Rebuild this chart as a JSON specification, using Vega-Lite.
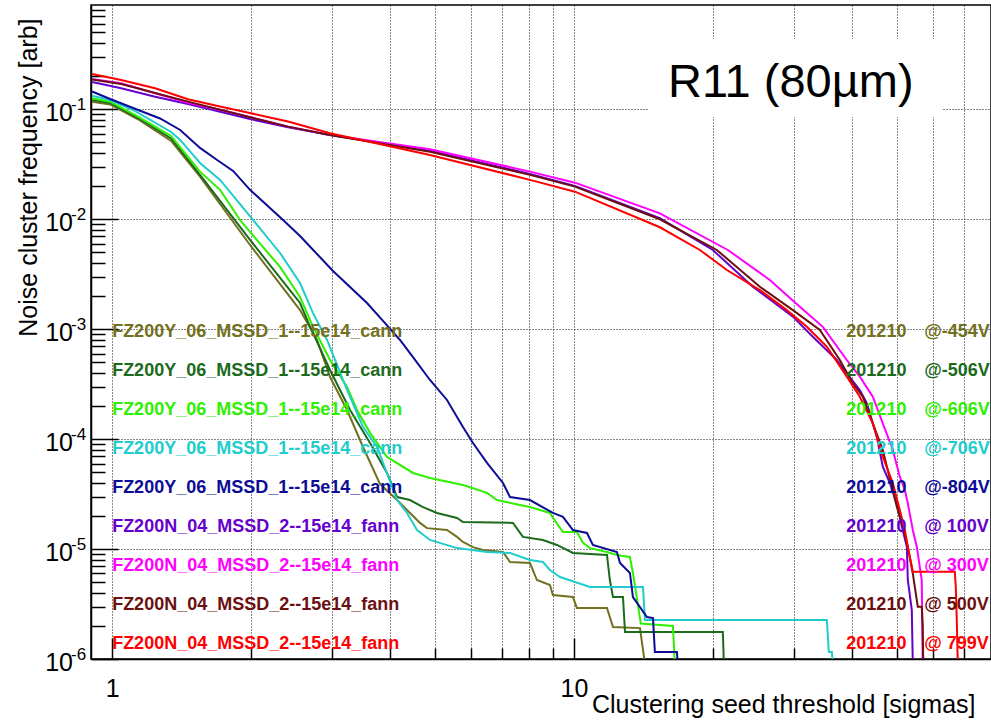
{
  "$schema": "https://vega.github.io/schema/vega-lite/v6.json",
  "width": 900,
  "height": 654,
  "autosize": {"type": "none"},
  "padding": {"left": 91, "top": 5, "right": 0, "bottom": 61},
  "background": "white",
  "config": {"view": {"stroke": "#000", "strokeWidth": 1.5}, "font": "Liberation Sans"},
  "datasets": {
    "curves": [
      {"s": "-454V", "x": 0.905, "y": 0.1173}, {"s": "-454V", "x": 0.990, "y": 0.1106}, {"s": "-454V", "x": 1.138, "y": 0.0811}, {"s": "-454V", "x": 1.342, "y": 0.0515}, {"s": "-454V", "x": 1.550, "y": 0.0244}, {"s": "-454V", "x": 1.989, "y": 0.00583}, {"s": "-454V", "x": 2.552, "y": 0.00149}, {"s": "-454V", "x": 2.778, "y": 0.000797}, {"s": "-454V", "x": 2.964, "y": 0.000367}, {"s": "-454V", "x": 3.226, "y": 0.000184}, {"s": "-454V", "x": 3.494, "y": 0.0000848}, {"s": "-454V", "x": 3.803, "y": 0.000039}, {"s": "-454V", "x": 4.140, "y": 0.0000279}, {"s": "-454V", "x": 4.416, "y": 0.0000213}, {"s": "-454V", "x": 4.642, "y": 0.0000173}, {"s": "-454V", "x": 4.806, "y": 0.0000155}, {"s": "-454V", "x": 5.310, "y": 0.0000149}, {"s": "-454V", "x": 5.582, "y": 0.0000129}, {"s": "-454V", "x": 5.750, "y": 0.0000116}, {"s": "-454V", "x": 6.045, "y": 0.0000104}, {"s": "-454V", "x": 6.354, "y": 0.0000098}, {"s": "-454V", "x": 7.020, "y": 0.0000094}, {"s": "-454V", "x": 7.270, "y": 0.00000762}, {"s": "-454V", "x": 8.031, "y": 0.00000746}, {"s": "-454V", "x": 8.314, "y": 0.00000523}, {"s": "-454V", "x": 8.872, "y": 0.00000471}, {"s": "-454V", "x": 9.005, "y": 0.00000382}, {"s": "-454V", "x": 9.950, "y": 0.00000366}, {"s": "-454V", "x": 10.15, "y": 0.00000291}, {"s": "-454V", "x": 11.79, "y": 0.00000291}, {"s": "-454V", "x": 12.15, "y": 0.00000195}, {"s": "-454V", "x": 13.90, "y": 0.00000191}, {"s": "-454V", "x": 14.25, "y": 0.0000009},

      {"s": "-506V", "x": 0.905, "y": 0.1215}, {"s": "-506V", "x": 0.990, "y": 0.1141}, {"s": "-506V", "x": 1.138, "y": 0.0833}, {"s": "-506V", "x": 1.342, "y": 0.0543}, {"s": "-506V", "x": 1.550, "y": 0.0253}, {"s": "-506V", "x": 1.989, "y": 0.00648}, {"s": "-506V", "x": 2.552, "y": 0.00173}, {"s": "-506V", "x": 2.684, "y": 0.00105}, {"s": "-506V", "x": 2.964, "y": 0.000425}, {"s": "-506V", "x": 3.275, "y": 0.000184}, {"s": "-506V", "x": 3.618, "y": 0.0000922}, {"s": "-506V", "x": 3.938, "y": 0.0000492}, {"s": "-506V", "x": 4.140, "y": 0.0000297}, {"s": "-506V", "x": 4.416, "y": 0.0000279}, {"s": "-506V", "x": 4.712, "y": 0.0000241}, {"s": "-506V", "x": 5.052, "y": 0.0000213}, {"s": "-506V", "x": 5.582, "y": 0.0000192}, {"s": "-506V", "x": 5.750, "y": 0.0000176}, {"s": "-506V", "x": 7.379, "y": 0.0000173}, {"s": "-506V", "x": 7.755, "y": 0.0000129}, {"s": "-506V", "x": 8.568, "y": 0.0000121}, {"s": "-506V", "x": 9.188, "y": 0.0000109}, {"s": "-506V", "x": 9.950, "y": 0.00000921}, {"s": "-506V", "x": 11.79, "y": 0.00000883}, {"s": "-506V", "x": 11.96, "y": 0.00000523}, {"s": "-506V", "x": 12.15, "y": 0.00000366}, {"s": "-506V", "x": 12.77, "y": 0.00000366}, {"s": "-506V", "x": 12.90, "y": 0.00000176}, {"s": "-506V", "x": 21.01, "y": 0.00000176}, {"s": "-506V", "x": 21.12, "y": 0.0000009},

      {"s": "-606V", "x": 0.905, "y": 0.1259}, {"s": "-606V", "x": 0.990, "y": 0.1173}, {"s": "-606V", "x": 1.138, "y": 0.0856}, {"s": "-606V", "x": 1.342, "y": 0.0572}, {"s": "-606V", "x": 1.550, "y": 0.0271}, {"s": "-606V", "x": 1.713, "y": 0.0185}, {"s": "-606V", "x": 1.892, "y": 0.00984}, {"s": "-606V", "x": 1.989, "y": 0.00766}, {"s": "-606V", "x": 2.310, "y": 0.00368}, {"s": "-606V", "x": 2.552, "y": 0.00196}, {"s": "-606V", "x": 2.723, "y": 0.00105}, {"s": "-606V", "x": 2.964, "y": 0.000524}, {"s": "-606V", "x": 3.226, "y": 0.000298}, {"s": "-606V", "x": 3.391, "y": 0.000184}, {"s": "-606V", "x": 3.618, "y": 0.000114}, {"s": "-606V", "x": 3.938, "y": 0.0000688}, {"s": "-606V", "x": 4.482, "y": 0.0000492}, {"s": "-606V", "x": 4.878, "y": 0.0000443}, {"s": "-606V", "x": 5.750, "y": 0.0000382}, {"s": "-606V", "x": 6.483, "y": 0.0000324}, {"s": "-606V", "x": 6.812, "y": 0.0000279}, {"s": "-606V", "x": 7.639, "y": 0.0000252}, {"s": "-606V", "x": 8.031, "y": 0.0000241}, {"s": "-606V", "x": 8.872, "y": 0.0000213}, {"s": "-606V", "x": 9.005, "y": 0.0000192}, {"s": "-606V", "x": 9.467, "y": 0.0000143}, {"s": "-606V", "x": 10.15, "y": 0.0000143}, {"s": "-606V", "x": 10.46, "y": 0.0000114}, {"s": "-606V", "x": 10.83, "y": 0.0000102}, {"s": "-606V", "x": 11.79, "y": 0.0000094}, {"s": "-606V", "x": 12.39, "y": 0.00000883}, {"s": "-606V", "x": 13.22, "y": 0.00000847}, {"s": "-606V", "x": 13.42, "y": 0.00000606}, {"s": "-606V", "x": 13.96, "y": 0.0000021}, {"s": "-606V", "x": 16.38, "y": 0.000002}, {"s": "-606V", "x": 16.54, "y": 0.0000009},

      {"s": "-706V", "x": 0.905, "y": 0.1330}, {"s": "-706V", "x": 0.990, "y": 0.1215}, {"s": "-706V", "x": 1.110, "y": 0.0985}, {"s": "-706V", "x": 1.342, "y": 0.0622}, {"s": "-706V", "x": 1.404, "y": 0.0526}, {"s": "-706V", "x": 1.550, "y": 0.0325}, {"s": "-706V", "x": 1.713, "y": 0.0228}, {"s": "-706V", "x": 2.019, "y": 0.00984}, {"s": "-706V", "x": 2.310, "y": 0.00493}, {"s": "-706V", "x": 2.552, "y": 0.00263}, {"s": "-706V", "x": 2.723, "y": 0.00140}, {"s": "-706V", "x": 2.920, "y": 0.000797}, {"s": "-706V", "x": 3.226, "y": 0.000280}, {"s": "-706V", "x": 3.494, "y": 0.000129}, {"s": "-706V", "x": 3.747, "y": 0.0000848}, {"s": "-706V", "x": 4.140, "y": 0.0000279}, {"s": "-706V", "x": 4.350, "y": 0.0000213}, {"s": "-706V", "x": 4.573, "y": 0.0000149}, {"s": "-706V", "x": 4.878, "y": 0.0000121}, {"s": "-706V", "x": 5.582, "y": 0.0000102}, {"s": "-706V", "x": 6.483, "y": 0.0000094}, {"s": "-706V", "x": 7.270, "y": 0.00000921}, {"s": "-706V", "x": 8.031, "y": 0.00000795}, {"s": "-706V", "x": 8.568, "y": 0.00000762}, {"s": "-706V", "x": 8.872, "y": 0.00000645}, {"s": "-706V", "x": 9.326, "y": 0.00000557}, {"s": "-706V", "x": 10.83, "y": 0.00000452}, {"s": "-706V", "x": 14.11, "y": 0.00000452}, {"s": "-706V", "x": 14.25, "y": 0.00000226}, {"s": "-706V", "x": 35.29, "y": 0.00000226}, {"s": "-706V", "x": 35.64, "y": 0.00000116}, {"s": "-706V", "x": 36.18, "y": 0.00000116}, {"s": "-706V", "x": 36.36, "y": 0.0000009},

      {"s": "-804V", "x": 0.905, "y": 0.1452}, {"s": "-804V", "x": 0.990, "y": 0.1241}, {"s": "-804V", "x": 1.110, "y": 0.1027}, {"s": "-804V", "x": 1.270, "y": 0.0825}, {"s": "-804V", "x": 1.404, "y": 0.0648}, {"s": "-804V", "x": 1.550, "y": 0.0445}, {"s": "-804V", "x": 1.688, "y": 0.0346}, {"s": "-804V", "x": 1.828, "y": 0.0275}, {"s": "-804V", "x": 1.989, "y": 0.0185}, {"s": "-804V", "x": 2.345, "y": 0.00984}, {"s": "-804V", "x": 2.552, "y": 0.00704}, {"s": "-804V", "x": 3.008, "y": 0.00338}, {"s": "-804V", "x": 3.564, "y": 0.00173}, {"s": "-804V", "x": 3.860, "y": 0.00119}, {"s": "-804V", "x": 4.201, "y": 0.000797}, {"s": "-804V", "x": 4.482, "y": 0.000558}, {"s": "-804V", "x": 4.878, "y": 0.000345}, {"s": "-804V", "x": 5.310, "y": 0.000227}, {"s": "-804V", "x": 5.750, "y": 0.000129}, {"s": "-804V", "x": 6.045, "y": 0.0000922}, {"s": "-804V", "x": 6.483, "y": 0.0000607}, {"s": "-804V", "x": 7.020, "y": 0.0000399}, {"s": "-804V", "x": 7.270, "y": 0.0000297}, {"s": "-804V", "x": 8.031, "y": 0.0000279}, {"s": "-804V", "x": 9.005, "y": 0.0000213}, {"s": "-804V", "x": 9.467, "y": 0.0000196}, {"s": "-804V", "x": 9.950, "y": 0.0000149}, {"s": "-804V", "x": 10.67, "y": 0.0000140}, {"s": "-804V", "x": 10.99, "y": 0.0000109}, {"s": "-804V", "x": 12.39, "y": 0.0000094}, {"s": "-804V", "x": 12.58, "y": 0.00000746}, {"s": "-804V", "x": 13.22, "y": 0.00000606}, {"s": "-804V", "x": 13.42, "y": 0.00000366}, {"s": "-804V", "x": 14.39, "y": 0.00000241}, {"s": "-804V", "x": 14.83, "y": 0.00000236}, {"s": "-804V", "x": 14.97, "y": 0.00000116}, {"s": "-804V", "x": 16.71, "y": 0.00000116}, {"s": "-804V", "x": 16.79, "y": 0.0000009},

      {"s": "100V", "x": 0.905, "y": 0.1771}, {"s": "100V", "x": 1.046, "y": 0.1552}, {"s": "100V", "x": 1.239, "y": 0.1302}, {"s": "100V", "x": 1.460, "y": 0.1117}, {"s": "100V", "x": 1.999, "y": 0.0811}, {"s": "100V", "x": 2.404, "y": 0.0686}, {"s": "100V", "x": 2.964, "y": 0.0584}, {"s": "100V", "x": 4.878, "y": 0.0420}, {"s": "100V", "x": 8.031, "y": 0.0258}, {"s": "100V", "x": 10.05, "y": 0.0201}, {"s": "100V", "x": 15.35, "y": 0.0102}, {"s": "100V", "x": 19.99, "y": 0.00525}, {"s": "100V", "x": 24.40, "y": 0.00243}, {"s": "100V", "x": 29.79, "y": 0.00130}, {"s": "100V", "x": 32.91, "y": 0.000854}, {"s": "100V", "x": 37.09, "y": 0.000524}, {"s": "100V", "x": 38.98, "y": 0.000397}, {"s": "100V", "x": 41.59, "y": 0.000280}, {"s": "100V", "x": 43.07, "y": 0.000212}, {"s": "100V", "x": 44.38, "y": 0.000139}, {"s": "100V", "x": 45.27, "y": 0.000105}, {"s": "100V", "x": 46.64, "y": 0.0000561}, {"s": "100V", "x": 48.31, "y": 0.0000399}, {"s": "100V", "x": 50.02, "y": 0.0000261}, {"s": "100V", "x": 51.29, "y": 0.0000160}, {"s": "100V", "x": 52.58, "y": 0.0000105}, {"s": "100V", "x": 52.84, "y": 0.00000523}, {"s": "100V", "x": 53.90, "y": 0.00000279}, {"s": "100V", "x": 54.17, "y": 0.0000009},

      {"s": "300V", "x": 0.905, "y": 0.1886}, {"s": "300V", "x": 1.046, "y": 0.1723}, {"s": "300V", "x": 1.239, "y": 0.1398}, {"s": "300V", "x": 1.460, "y": 0.1148}, {"s": "300V", "x": 1.722, "y": 0.0985}, {"s": "300V", "x": 1.999, "y": 0.0846}, {"s": "300V", "x": 2.404, "y": 0.0695}, {"s": "300V", "x": 2.964, "y": 0.0584}, {"s": "300V", "x": 4.878, "y": 0.0433}, {"s": "300V", "x": 8.031, "y": 0.0271}, {"s": "300V", "x": 10.05, "y": 0.0215}, {"s": "300V", "x": 15.35, "y": 0.01132}, {"s": "300V", "x": 21.54, "y": 0.00525}, {"s": "300V", "x": 26.56, "y": 0.00280}, {"s": "300V", "x": 30.84, "y": 0.00160}, {"s": "300V", "x": 34.59, "y": 0.00105}, {"s": "300V", "x": 38.98, "y": 0.000524}, {"s": "300V", "x": 41.59, "y": 0.000370}, {"s": "300V", "x": 44.38, "y": 0.000243}, {"s": "300V", "x": 46.64, "y": 0.000139}, {"s": "300V", "x": 49.03, "y": 0.0000796}, {"s": "300V", "x": 50.77, "y": 0.0000455}, {"s": "300V", "x": 52.06, "y": 0.0000345}, {"s": "300V", "x": 52.84, "y": 0.0000261}, {"s": "300V", "x": 54.17, "y": 0.0000149}, {"s": "300V", "x": 55.26, "y": 0.0000105}, {"s": "300V", "x": 56.64, "y": 0.00000523}, {"s": "300V", "x": 56.92, "y": 0.0000009},

      {"s": "500V", "x": 0.905, "y": 0.1867}, {"s": "500V", "x": 1.046, "y": 0.1698}, {"s": "500V", "x": 1.460, "y": 0.1173}, {"s": "500V", "x": 1.999, "y": 0.0842}, {"s": "500V", "x": 2.404, "y": 0.0695}, {"s": "500V", "x": 2.964, "y": 0.0584}, {"s": "500V", "x": 4.878, "y": 0.0411}, {"s": "500V", "x": 8.031, "y": 0.0253}, {"s": "500V", "x": 10.05, "y": 0.0198}, {"s": "500V", "x": 15.35, "y": 0.00999}, {"s": "500V", "x": 20.39, "y": 0.00525}, {"s": "500V", "x": 25.27, "y": 0.00243}, {"s": "500V", "x": 29.79, "y": 0.00149}, {"s": "500V", "x": 34.08, "y": 0.000983}, {"s": "500V", "x": 37.65, "y": 0.000524}, {"s": "500V", "x": 40.16, "y": 0.000322}, {"s": "500V", "x": 42.22, "y": 0.000243}, {"s": "500V", "x": 44.38, "y": 0.000139}, {"s": "500V", "x": 46.64, "y": 0.0000796}, {"s": "500V", "x": 48.79, "y": 0.0000369}, {"s": "500V", "x": 50.02, "y": 0.0000243}, {"s": "500V", "x": 51.54, "y": 0.0000160}, {"s": "500V", "x": 52.84, "y": 0.0000105}, {"s": "500V", "x": 54.17, "y": 0.0000060}, {"s": "500V", "x": 55.53, "y": 0.00000299}, {"s": "500V", "x": 56.64, "y": 0.00000299}, {"s": "500V", "x": 56.92, "y": 0.00000197}, {"s": "500V", "x": 57.06, "y": 0.0000009},

      {"s": "799V", "x": 0.905, "y": 0.2095}, {"s": "799V", "x": 1.046, "y": 0.1847}, {"s": "799V", "x": 1.239, "y": 0.1552}, {"s": "799V", "x": 1.460, "y": 0.1233}, {"s": "799V", "x": 1.722, "y": 0.1056}, {"s": "799V", "x": 1.999, "y": 0.0919}, {"s": "799V", "x": 2.404, "y": 0.0775}, {"s": "799V", "x": 2.964, "y": 0.0605}, {"s": "799V", "x": 4.878, "y": 0.0384}, {"s": "799V", "x": 8.031, "y": 0.0228}, {"s": "799V", "x": 10.05, "y": 0.0178}, {"s": "799V", "x": 15.35, "y": 0.00845}, {"s": "799V", "x": 18.74, "y": 0.00525}, {"s": "799V", "x": 21.44, "y": 0.00345}, {"s": "799V", "x": 25.27, "y": 0.00227}, {"s": "799V", "x": 28.91, "y": 0.00149}, {"s": "799V", "x": 31.94, "y": 0.00105}, {"s": "799V", "x": 35.29, "y": 0.000693}, {"s": "799V", "x": 38.98, "y": 0.000370}, {"s": "799V", "x": 41.59, "y": 0.000243}, {"s": "799V", "x": 44.38, "y": 0.000139}, {"s": "799V", "x": 46.64, "y": 0.0000692}, {"s": "799V", "x": 49.03, "y": 0.0000399}, {"s": "799V", "x": 50.77, "y": 0.0000227}, {"s": "799V", "x": 52.06, "y": 0.0000149}, {"s": "799V", "x": 52.84, "y": 0.0000105}, {"s": "799V", "x": 54.17, "y": 0.00000622}, {"s": "799V", "x": 66.79, "y": 0.00000622}, {"s": "799V", "x": 67.12, "y": 0.00000452}, {"s": "799V", "x": 67.45, "y": 0.00000226}, {"s": "799V", "x": 67.79, "y": 0.0000009}
    ],
    "legend": [
      {"s": "-454V", "name": "FZ200Y_06_MSSD_1--15e14_cann", "date": "201210", "bias": "@-454V"},
      {"s": "-506V", "name": "FZ200Y_06_MSSD_1--15e14_cann", "date": "201210", "bias": "@-506V"},
      {"s": "-606V", "name": "FZ200Y_06_MSSD_1--15e14_cann", "date": "201210", "bias": "@-606V"},
      {"s": "-706V", "name": "FZ200Y_06_MSSD_1--15e14_cann", "date": "201210", "bias": "@-706V"},
      {"s": "-804V", "name": "FZ200Y_06_MSSD_1--15e14_cann", "date": "201210", "bias": "@-804V"},
      {"s": "100V", "name": "FZ200N_04_MSSD_2--15e14_fann", "date": "201210", "bias": "@ 100V"},
      {"s": "300V", "name": "FZ200N_04_MSSD_2--15e14_fann", "date": "201210", "bias": "@ 300V"},
      {"s": "500V", "name": "FZ200N_04_MSSD_2--15e14_fann", "date": "201210", "bias": "@ 500V"},
      {"s": "799V", "name": "FZ200N_04_MSSD_2--15e14_fann", "date": "201210", "bias": "@ 799V"}
    ],
    "exps": [
      {"v": 0.1, "e": "-1"}, {"v": 0.01, "e": "-2"}, {"v": 0.001, "e": "-3"},
      {"v": 0.0001, "e": "-4"}, {"v": 0.00001, "e": "-5"}, {"v": 0.000001, "e": "-6"}
    ]
  },
  "resolve": {"scale": {"y": "independent"}},
  "layer": [
    {
      "layer": [
        {
          "data": {"name": "curves"},
          "mark": {"type": "line", "strokeWidth": 2, "clip": true},
          "encoding": {
            "x": {
              "field": "x", "type": "quantitative",
              "scale": {"type": "log", "domain": [0.9, 80], "nice": false},
              "axis": {
                "title": "Clustering seed threshold [sigmas]",
                "values": [1, 2, 3, 4, 5, 6, 7, 8, 9, 10, 20, 30, 40, 50, 60, 70],
                "labelExpr": "datum.value == 1 ? '1' : (datum.value == 10 ? '10' : '')",
                "labelFont": "Liberation Sans", "labelFontSize": 25, "labelColor": "#000",
                "labelPadding": 38.5, "labelFlush": false, "labelOverlap": false, "labelBound": false,
                "tickSize": {"condition": {"test": "datum.value == 1 || datum.value == 10", "value": -21}, "value": -11},
                "tickColor": "#000", "tickWidth": 1.5,
                "grid": true, "gridColor": "#111", "gridDash": [1, 2], "gridWidth": 1,
                "domain": true, "domainColor": "#000", "domainWidth": 1.5,
                "titleFont": "Liberation Sans", "titleFontSize": 25, "titleFontWeight": "normal", "titleColor": "#000",
                "titleAlign": "right", "titleBaseline": "alphabetic", "titleAnchor": "end", "titleX": 884, "titleY": 53
              }
            },
            "y": {
              "field": "y", "type": "quantitative",
              "scale": {"type": "log", "domain": [0.000001, 0.888], "nice": false},
              "axis": {
                "title": "Noise cluster frequency [arb]",
                "values": [0.000001, 0.000002, 0.000003, 0.000004, 0.000005, 0.000006, 0.000007, 0.000008, 0.000009,
                           0.00001, 0.00002, 0.00003, 0.00004, 0.00005, 0.00006, 0.00007, 0.00008, 0.00009,
                           0.0001, 0.0002, 0.0003, 0.0004, 0.0005, 0.0006, 0.0007, 0.0008, 0.0009,
                           0.001, 0.002, 0.003, 0.004, 0.005, 0.006, 0.007, 0.008, 0.009,
                           0.01, 0.02, 0.03, 0.04, 0.05, 0.06, 0.07, 0.08, 0.09,
                           0.1, 0.2, 0.3, 0.4, 0.5, 0.6, 0.7, 0.8],
                "labelExpr": "abs(log(datum.value)/LN10 - round(log(datum.value)/LN10)) < 0.001 ? '10' : ''",
                "labelFont": "Liberation Sans", "labelFontSize": 25, "labelColor": "#000",
                "labelPadding": 45.5, "labelOffset": 11.7, "labelBaseline": "alphabetic", "labelAlign": "right",
                "labelFlush": false, "labelOverlap": false, "labelBound": false,
                "tickSize": {"condition": {"test": "abs(log(datum.value)/LN10 - round(log(datum.value)/LN10)) < 0.001", "value": -27}, "value": -14},
                "tickColor": "#000", "tickWidth": 1.5,
                "grid": true, "gridColor": "#111", "gridDash": [1, 2], "gridWidth": 1,
                "gridOpacity": {"condition": {"test": "abs(log(datum.value)/LN10 - round(log(datum.value)/LN10)) < 0.001", "value": 1}, "value": 0},
                "domain": true, "domainColor": "#000", "domainWidth": 1.5,
                "titleFont": "Liberation Sans", "titleFontSize": 25, "titleFontWeight": "normal", "titleColor": "#000",
                "titleAngle": 270, "titleAlign": "right", "titleBaseline": "alphabetic", "titleAnchor": "end", "titleX": -55, "titleY": 13
              }
            },
            "color": {
              "field": "s", "type": "nominal",
              "scale": {"domain": ["-454V", "-506V", "-606V", "-706V", "-804V", "100V", "300V", "500V", "799V"],
                        "range": ["#737020", "#1c6b1c", "#2ef000", "#20cccc", "#0c0c96", "#6600cc", "#ff00ff", "#6b0f0f", "#ff0000"]},
              "legend": null
            }
          }
        },
        {
          "data": {"values": [{}]},
          "mark": {"type": "rect", "fill": "white", "strokeWidth": 0},
          "encoding": {
            "x": {"datum": 14.53, "type": "quantitative"},
            "x2": {"datum": 62.6},
            "y": {"datum": 0.436, "type": "quantitative"},
            "y2": {"datum": 0.0851}
          }
        },
        {
          "data": {"values": [{}]},
          "mark": {"type": "text", "text": "R11 (80µm)", "fontSize": 47, "font": "Liberation Sans", "align": "left", "baseline": "alphabetic", "color": "#000"},
          "encoding": {
            "x": {"datum": 15.98, "type": "quantitative"},
            "y": {"datum": 0.1285, "type": "quantitative"}
          }
        },
        {
          "data": {"name": "exps"},
          "mark": {"type": "text", "fontSize": 17, "font": "Liberation Sans", "align": "left", "baseline": "alphabetic", "dy": 1, "color": "#000", "clip": false},
          "encoding": {
            "x": {"datum": 0.815, "type": "quantitative"},
            "y": {"field": "v", "type": "quantitative"},
            "text": {"field": "e"}
          }
        }
      ]
    },
    {
      "data": {"name": "legend"},
      "encoding": {
        "y": {"field": "s", "type": "nominal",
              "scale": {"type": "point", "domain": ["-454V", "-506V", "-606V", "-706V", "-804V", "100V", "300V", "500V", "799V"], "range": [332.3, 644.3], "padding": 0},
              "axis": null},
        "color": {
          "field": "s", "type": "nominal",
          "scale": {"domain": ["-454V", "-506V", "-606V", "-706V", "-804V", "100V", "300V", "500V", "799V"],
                    "range": ["#737020", "#1c6b1c", "#2ef000", "#20cccc", "#0c0c96", "#6600cc", "#ff00ff", "#6b0f0f", "#ff0000"]},
          "legend": null
        }
      },
      "layer": [
        {
          "mark": {"type": "text", "align": "left", "baseline": "alphabetic", "fontSize": 18, "fontWeight": "bold", "font": "Liberation Sans"},
          "encoding": {"x": {"datum": 1.0, "type": "quantitative"}, "text": {"field": "name"}}
        },
        {
          "mark": {"type": "text", "align": "left", "baseline": "alphabetic", "fontSize": 18, "fontWeight": "bold", "font": "Liberation Sans"},
          "encoding": {"x": {"datum": 38.89, "type": "quantitative"}, "text": {"field": "date"}}
        },
        {
          "mark": {"type": "text", "align": "left", "baseline": "alphabetic", "fontSize": 18, "fontWeight": "bold", "font": "Liberation Sans"},
          "encoding": {"x": {"datum": 57.36, "type": "quantitative"}, "text": {"field": "bias"}}
        }
      ]
    }
  ]
}
